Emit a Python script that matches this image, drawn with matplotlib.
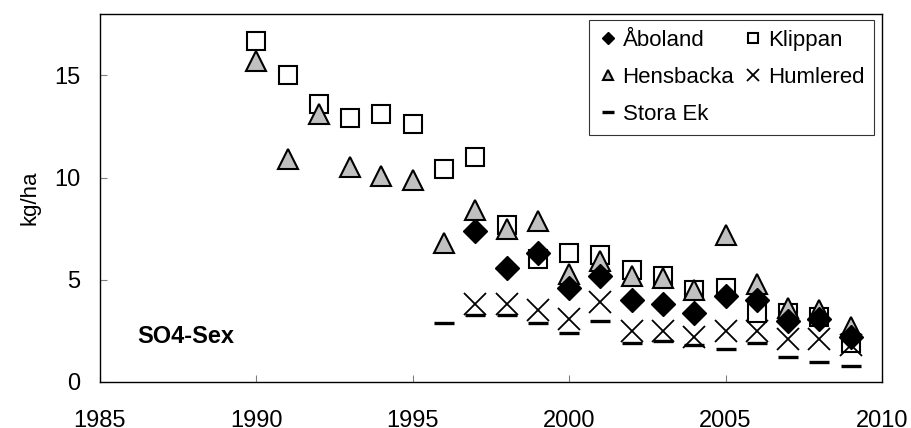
#!/usr/bin/env python3
"""
Sulphate deposition (SO4-S excess) per site, kg/ha and year.
"""

import matplotlib
matplotlib.use("Agg")
import matplotlib.pyplot as plt

plt.rcParams['font.family'] = ['Liberation Sans', 'DejaVu Sans']

# yearly values per site
years_klippan = list(range(1990, 2010))
klippan = [16.7, 15.0, 13.6, 12.9, 13.1, 12.6, 10.4, 11.0, 7.7, 6.0,
           6.3, 6.2, 5.5, 5.2, 4.5, 4.6, 3.4, 3.4, 3.2, 1.9]

years_hensbacka = list(range(1990, 2010))
hensbacka = [15.7, 10.9, 13.1, 10.5, 10.1, 9.9, 6.8, 8.4, 7.5, 7.9,
             5.3, 5.9, 5.2, 5.1, 4.5, 7.2, 4.8, 3.6, 3.5, 2.7]

years_aboland = list(range(1997, 2010))
aboland = [7.4, 5.6, 6.3, 4.6, 5.2, 4.0, 3.8, 3.4, 4.2, 4.0, 3.0, 3.1, 2.2]

years_humlered = list(range(1997, 2010))
humlered = [3.8, 3.8, 3.5, 3.1, 3.9, 2.5, 2.5, 2.2, 2.5, 2.5, 2.1, 2.1, 1.8]

years_storaek = list(range(1996, 2010))
storaek = [2.9, 3.3, 3.3, 2.9, 2.4, 3.0, 1.9, 2.0, 1.8, 1.6, 1.9, 1.2, 1.0, 0.8]


def main():
    fig = plt.figure(figsize=(9.12, 4.28), dpi=100)
    ax = fig.add_axes([0.1096, 0.1075, 0.8575, 0.8595])

    h_klip, = ax.plot(years_klippan, klippan, 's', ms=13, mfc='white',
                      mec='black', mew=1.5, label='Klippan', zorder=2)
    h_hens, = ax.plot(years_hensbacka, hensbacka, '^', ms=14, mfc='#c0c0c0',
                      mec='black', mew=1.5, label='Hensbacka', zorder=3)
    h_abo, = ax.plot(years_aboland, aboland, 'D', ms=12, mfc='black',
                     mec='black', mew=1, label='Åboland', zorder=4)
    h_hum, = ax.plot(years_humlered, humlered, 'x', ms=16, mec='black',
                     mew=1.3, label='Humlered', zorder=5)
    h_ek, = ax.plot(years_storaek, storaek, '_', ms=15, mec='black',
                    mew=2.4, label='Stora Ek', zorder=6)

    ax.set_xlim(1985, 2010)
    ax.set_ylim(0, 18)
    ax.set_xticks([1985, 1990, 1995, 2000, 2005, 2010])
    ax.set_yticks([0, 5, 10, 15])
    ax.tick_params(axis='x', direction='in', length=5, color='#808080',
                   labelsize=17, pad=20)
    ax.tick_params(axis='y', direction='in', length=5, color='#808080',
                   labelsize=17, pad=14)
    for s in ax.spines.values():
        s.set_linewidth(1.0)
        s.set_color('black')

    ax.set_ylabel('kg/ha', fontsize=16, labelpad=10)
    ax.text(0.048, 0.124, 'SO4-Sex', transform=ax.transAxes, fontsize=17,
            fontweight='bold', va='center', ha='left')

    leg = ax.legend(handles=[h_abo, h_hens, h_ek, h_klip, h_hum], ncol=2,
                    loc='upper right', bbox_to_anchor=(0.99, 0.984),
                    borderaxespad=0, fontsize=16, markerscale=0.55,
                    handlelength=0.8, handletextpad=0.25, columnspacing=0.45,
                    labelspacing=0.72, fancybox=False, frameon=True,
                    borderpad=0.45)
    leg.get_frame().set_edgecolor('black')
    leg.get_frame().set_linewidth(0.8)

    fig.savefig('out.png', dpi=100)


if __name__ == "__main__":
    main()
